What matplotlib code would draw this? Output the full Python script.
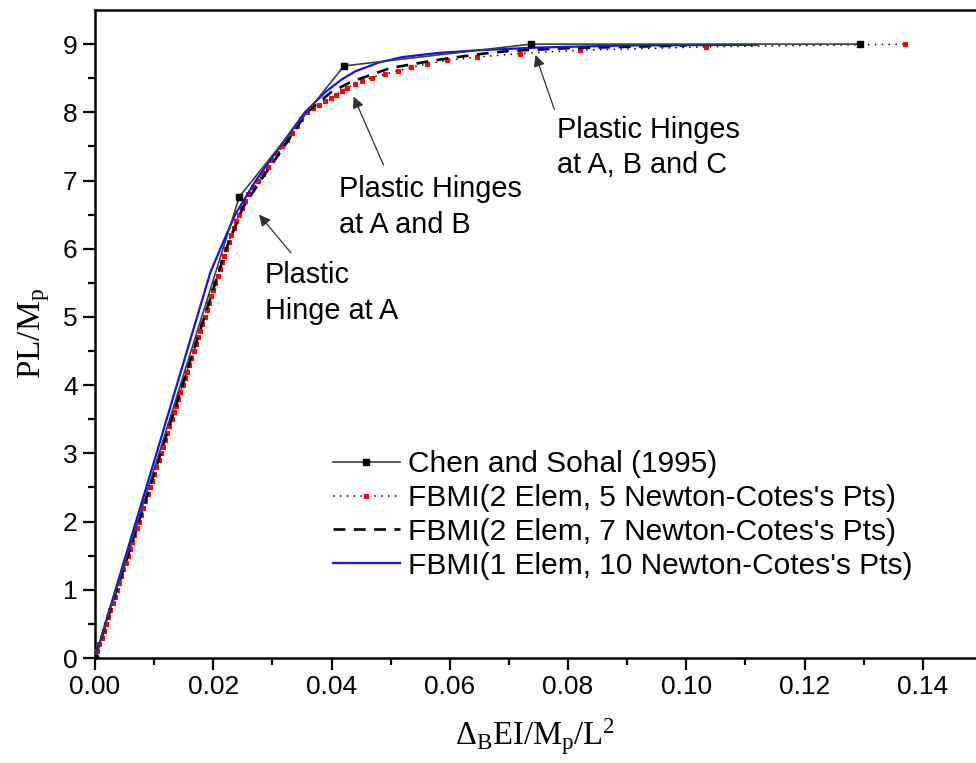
import numpy as np
import matplotlib
matplotlib.use("Agg")
import matplotlib.pyplot as plt

plt.rcParams["font.family"] = ["Liberation Sans", "DejaVu Sans"]
plt.rcParams["mathtext.fontset"] = "custom"
plt.rcParams["mathtext.rm"] = "Liberation Serif"
plt.rcParams["mathtext.it"] = "Liberation Serif:italic"

# Chen and Sohal (1995) reference solution
chen_x = [0.0, 0.0244, 0.0421, 0.0737, 0.1293]
chen_y = [0.0, 6.76, 8.68, 9.00, 9.00]

# FBMI, 2 elements, 5 Newton-Cotes points (x in units of 1e-3)
fb5_x = np.array([
    0.00, 0.37, 0.74, 1.11, 1.48, 1.85, 2.22, 2.59, 2.96, 3.33,
    3.70, 4.07, 4.44, 4.81, 5.19, 5.56, 5.93, 6.30, 6.67, 7.04,
    7.41, 7.78, 8.15, 8.52, 8.89, 9.26, 9.63, 10.00, 10.37, 10.74,
    11.11, 11.48, 11.85, 12.22, 12.59, 12.96, 13.33, 13.70, 14.07, 14.44,
    14.81, 15.19, 15.56, 15.93, 16.30, 16.67, 17.04, 17.41, 17.78, 18.15,
    18.52, 18.89, 19.26, 19.63, 20.00, 20.37, 20.74, 21.11, 21.48, 21.85,
    22.22, 22.60, 23.00, 23.45, 23.90, 24.40, 24.90, 25.35, 25.90, 26.70,
    27.60, 28.40, 29.20, 30.00, 30.80, 31.70, 32.50, 33.30, 34.10, 34.90,
    35.80, 36.90, 37.90, 38.90, 39.90, 40.80, 41.70, 42.70, 43.90, 45.20,
    46.80, 49.10, 51.30, 53.50, 56.20, 59.50, 64.60, 71.80, 82.00, 103.40,
    137.00]) * 1e-3
fb5_y = [
    0.0, 0.1, 0.2, 0.3, 0.4, 0.5, 0.6, 0.7, 0.8, 0.9,
    1.0, 1.1, 1.2, 1.3, 1.4, 1.5, 1.6, 1.7, 1.8, 1.9,
    2.0, 2.1, 2.2, 2.3, 2.4, 2.5, 2.6, 2.7, 2.8, 2.9,
    3.0, 3.1, 3.2, 3.3, 3.4, 3.5, 3.6, 3.7, 3.8, 3.9,
    4.0, 4.1, 4.2, 4.3, 4.4, 4.5, 4.6, 4.7, 4.8, 4.9,
    5.0, 5.1, 5.2, 5.3, 5.4, 5.5, 5.6, 5.7, 5.8, 5.9,
    6.0, 6.1, 6.2, 6.3, 6.4, 6.5, 6.6, 6.7, 6.8, 6.9,
    7.0, 7.1, 7.2, 7.3, 7.4, 7.5, 7.6, 7.7, 7.8, 7.9,
    8.0, 8.06, 8.11, 8.16, 8.21, 8.26, 8.31, 8.36, 8.41, 8.46,
    8.51, 8.56, 8.61, 8.66, 8.71, 8.76, 8.81, 8.86, 8.91, 8.96,
    9.00]

# FBMI, 2 elements, 7 Newton-Cotes points
fb7_x = [0.0, 0.0111, 0.0222, 0.0250, 0.0280, 0.0320, 0.0358, 0.0400,
         0.0434, 0.0500, 0.0580, 0.0656, 0.0701, 0.0800, 0.0900, 0.1000]
fb7_y = [0.0, 3.00, 6.00, 6.60, 7.00, 7.50, 8.00, 8.30,
         8.45, 8.65, 8.77, 8.86, 8.90, 8.94, 8.96, 8.98]

# FBMI, 1 element, 10 Newton-Cotes points
fb10_x = [0.0, 0.0104, 0.0195, 0.0212, 0.0237, 0.0272, 0.0313, 0.0355,
          0.0390, 0.0417, 0.0440, 0.0480, 0.0520, 0.0580, 0.0648, 0.0749,
          0.0900, 0.1120]
fb10_y = [0.0, 3.00, 5.65, 6.00, 6.50, 7.00, 7.50, 8.00,
          8.30, 8.48, 8.60, 8.73, 8.81, 8.87, 8.91, 8.95,
          8.98, 8.99]

labels = ["Chen and Sohal (1995)",
          "FBMI(2 Elem, 5 Newton-Cotes's Pts)",
          "FBMI(2 Elem, 7 Newton-Cotes's Pts)",
          "FBMI(1 Elem, 10 Newton-Cotes's Pts)"]

W, H = 976, 763
fig = plt.figure(figsize=(W / 100, H / 100), dpi=100)
ax = fig.add_axes([95 / W, 105 / H, (W - 95) / W, 648 / H])

ax.plot(fb5_x, fb5_y, color="black", lw=1.1, dashes=(1, 3.5),
        marker="s", ms=2.8, mfc="red", mec="red", mew=0.8, label=labels[1],
        zorder=3)
ax.plot(fb7_x, fb7_y, color="black", lw=1.9, dashes=(4.5, 3.2),
        label=labels[2], zorder=4)
ax.plot(fb10_x, fb10_y, color="#1010ff", lw=1.6, label=labels[3], zorder=5)
ax.plot(chen_x, chen_y, color="#3c3c3c", lw=1.2, marker="s", ms=4.5,
        mfc="black", mec="black", label=labels[0], zorder=6)

ax.set_xlim(0, 0.149)
ax.set_ylim(0, 9.5)
ax.set_xticks(np.arange(0, 0.141, 0.02))
ax.set_xticks(np.arange(0.01, 0.149, 0.02), minor=True)
ax.set_yticks(np.arange(0, 10, 1))
ax.set_yticks(np.arange(0.5, 9.5, 1), minor=True)
ax.xaxis.set_major_formatter(matplotlib.ticker.FormatStrFormatter("%.2f"))

for side in ("left", "bottom", "top"):
    ax.spines[side].set_linewidth(1.8)
ax.spines["right"].set_visible(False)
ax.tick_params(which="both", direction="out", width=1.6, top=False, right=False)
ax.tick_params(which="major", length=8.5, labelsize=19, pad=4)
ax.tick_params(which="minor", length=5)

ax.set_xlabel("Δ$_\\mathrm{B}$EI/M$_\\mathrm{p}$/L$^\\mathrm{2}$",
              family="Liberation Serif", fontsize=23.5, labelpad=12)
ax.set_ylabel("PL/M$_\\mathrm{p}$", family="Liberation Serif",
              fontsize=24, labelpad=8)

arrow = dict(arrowstyle="-|>", lw=0.9, color="#303030", shrinkA=0, shrinkB=0,
             mutation_scale=17)
notes = [("Plastic\nHinge at A", (0.02775, 6.50), (0.03314, 5.94), (0.02877, 5.82)),
         ("Plastic Hinges\nat A and B", (0.04374, 8.23), (0.04878, 7.23), (0.0412, 7.08)),
         ("Plastic Hinges\nat A, B and C", (0.0745, 8.84), (0.0777, 8.04), (0.0782, 7.95))]
for text, head, tail, pos in notes:
    ax.annotate("", xy=head, xytext=tail, arrowprops=arrow)
    ax.text(pos[0], pos[1], text, fontsize=20.8, ha="left", va="top",
            linespacing=1.35)

handles, labs = ax.get_legend_handles_labels()
order = [3, 0, 1, 2]
leg = fig.legend([handles[i] for i in order], [labs[i] for i in order],
                 loc="upper left", bbox_to_anchor=(333 / W, 1 - 450 / H),
                 frameon=False, fontsize=21.5, handlelength=2.24,
                 handletextpad=0.27, labelspacing=0.2, borderpad=0,
                 borderaxespad=0, numpoints=1)

fig.savefig("out.png", dpi=100)
